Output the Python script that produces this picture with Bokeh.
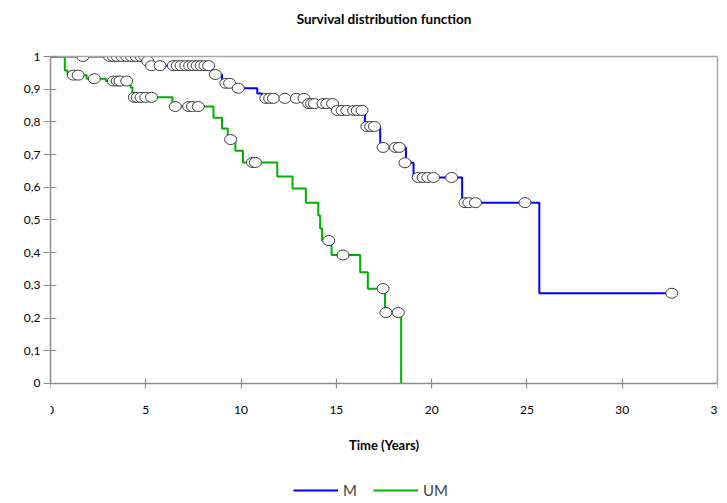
from bokeh.plotting import figure
from bokeh.models import (Range1d, FixedTicker, Legend, LegendItem, CustomJSTickFormatter,
                          LinearAxis)
from bokeh.embed import file_html
from bokeh.resources import INLINE

# ---- data ----
title_text = "Survival distribution function"
x_ticks = [0, 5, 10, 15, 20, 25, 30, 35]
y_ticks = [0, 0.1, 0.2, 0.3, 0.4, 0.5, 0.6, 0.7, 0.8, 0.9, 1.0]
y_tick_labels = ["0", "0,1", "0,2", "0,3", "0,4", "0,5", "0,6", "0,7", "0,8", "0,9", "1"]

# M group: event times and survival after each event
m_event_t = [5.05, 5.2, 8.5, 9.0, 9.6, 10.85, 11.1, 13.4, 15.0, 16.5, 17.3, 18.65, 19.05, 21.6, 25.65]
m_event_s = [0.986, 0.972, 0.945, 0.918, 0.903, 0.887, 0.872, 0.856, 0.835, 0.786, 0.722, 0.675, 0.630, 0.553, 0.276]
m_last_t = 32.6
# M censored observations
m_cens_t = [1.7, 3.1, 3.3, 3.5, 3.75, 4.0, 4.25, 4.5, 4.75, 4.95,
            5.1,
            5.3, 5.75, 6.45, 6.65, 6.85, 7.1, 7.3, 7.5, 7.7, 7.9, 8.1, 8.3,
            8.65, 9.2, 9.4, 9.85,
            11.3, 11.5, 11.7, 12.3, 12.9, 13.3,
            13.55, 13.7, 13.85, 14.3, 14.5, 14.8,
            15.05, 15.3, 15.55, 15.9, 16.1, 16.35,
            16.6, 16.8, 17.0,
            17.45, 18.1, 18.3, 18.6,
            19.3, 19.55, 19.8, 20.1, 21.05,
            21.75, 21.95, 22.3, 24.9, 32.6]
m_cens_s = [1, 1, 1, 1, 1, 1, 1, 1, 1, 1,
            0.986,
            0.972, 0.972, 0.972, 0.972, 0.972, 0.972, 0.972, 0.972, 0.972, 0.972, 0.972, 0.972,
            0.945, 0.918, 0.918, 0.903,
            0.872, 0.872, 0.872, 0.872, 0.872, 0.872,
            0.856, 0.856, 0.856, 0.856, 0.856, 0.856,
            0.835, 0.835, 0.835, 0.835, 0.835, 0.835,
            0.786, 0.786, 0.786,
            0.722, 0.722, 0.722, 0.675,
            0.630, 0.630, 0.630, 0.630, 0.630,
            0.553, 0.553, 0.553, 0.553, 0.276]

# UM group
um_event_t = [0.75, 0.9, 1.9, 2.9, 4.2, 4.3, 6.4, 8.55, 9.0, 9.3, 9.7, 10.1, 11.9, 12.7, 13.4,
              14.05, 14.15, 14.25, 14.75, 16.25, 16.65, 17.55, 18.4]
um_event_s = [0.957, 0.943, 0.932, 0.925, 0.905, 0.875, 0.847, 0.813, 0.78, 0.746, 0.712, 0.676,
              0.633, 0.596, 0.553, 0.514, 0.474, 0.437, 0.393, 0.34, 0.29, 0.217, 0.0]
um_cens_t = [1.2, 1.45, 2.3, 3.3, 3.5, 3.65, 4.0, 4.4, 4.55, 4.75, 5.0, 5.3,
             6.55, 7.25, 7.45, 7.75, 9.45, 10.6, 10.75, 14.6, 15.35, 17.45, 17.6, 18.25]
um_cens_s = [0.943, 0.943, 0.932, 0.925, 0.925, 0.925, 0.925, 0.875, 0.875, 0.875, 0.875, 0.875,
             0.847, 0.847, 0.847, 0.847, 0.746, 0.676, 0.676, 0.437, 0.393, 0.29, 0.217, 0.217]

series_names = ["M", "UM"]
series_colors = ["#0000ff", "#00b000"]

# ---- figure ----
# The frame extends below the x axis so that the legend can sit inside it;
# the x axis itself is pinned at y = 0.
FONT = "Lato"
BORDER = "#a6a6a6"
p = figure(frame_width=667, frame_height=447,
           output_backend="svg", toolbar_location=None,
           x_range=Range1d(0, 35), y_range=Range1d(-0.367, 1),
           min_border_left=50, min_border_right=10, min_border_top=56, min_border_bottom=0)

p.grid.visible = False
p.outline_line_color = None
p.background_fill_color = "white"
p.border_fill_color = "white"

bx = p.xaxis[0]
ly = p.yaxis[0]

for ax in (bx, ly):
    ax.axis_line_color = "#8c8c8c"
    ax.axis_line_width = 1.5
    ax.major_tick_line_color = "#8c8c8c"
    ax.major_tick_line_width = 1.2
    ax.minor_tick_line_color = None
    ax.major_label_text_font = FONT
    ax.major_label_text_font_size = "12px"
    ax.major_label_text_color = "#000000"

bx.fixed_location = 0
bx.bounds = (0, 35)
bx.ticker = FixedTicker(ticks=x_ticks)
bx.major_tick_in = 5
bx.major_tick_out = 5
bx.major_label_standoff = 18
bx.axis_label = "Time (Years)"
bx.axis_label_text_font = FONT
bx.axis_label_text_font_size = "13px"
bx.axis_label_text_font_style = "bold"
bx.axis_label_text_color = "#000000"
bx.axis_label_standoff = 19

ly.bounds = (0, 1)
ly.ticker = FixedTicker(ticks=y_ticks)
ly.formatter = CustomJSTickFormatter(args=dict(tv=y_ticks, tl=y_tick_labels), code="""
    for (let i = 0; i < tv.length; i++) {
        if (Math.abs(tv[i] - tick) < 1e-9) { return tl[i]; }
    }
    return String(tick);
""")
ly.major_tick_in = 6
ly.major_tick_out = 7
ly.major_label_standoff = 3

# title drawn as the label of a bare axis above the frame; its line is the top border
top_axis = LinearAxis(axis_label=title_text, ticker=FixedTicker(ticks=[]),
                      axis_line_color=BORDER, axis_line_width=1.5,
                      major_tick_line_color=None,
                      minor_tick_line_color=None, major_label_text_font_size="0px",
                      major_tick_in=0, major_tick_out=0, major_label_standoff=0,
                      axis_label_standoff=30, axis_label_text_font=FONT,
                      axis_label_text_font_size="13.5px", axis_label_text_font_style="bold",
                      axis_label_text_color="#000000")
p.add_layout(top_axis, "above")

# right border of the plot area (from 0 to 1)
right_axis = LinearAxis(ticker=FixedTicker(ticks=[]), bounds=(0, 1),
                        axis_line_color=BORDER, axis_line_width=1.5,
                        major_tick_line_color=None, minor_tick_line_color=None,
                        major_label_text_font_size="0px",
                        major_tick_in=0, major_tick_out=0, major_label_standoff=0)
p.add_layout(right_axis, "right")

# step lines
m_x = [0] + m_event_t + [m_last_t]
m_y = [1] + m_event_s + [m_event_s[-1]]
um_x = [0] + um_event_t
um_y = [1] + um_event_s

r_m = p.step(m_x, m_y, mode="after", line_color=series_colors[0], line_width=2)
r_um = p.step(um_x, um_y, mode="after", line_color=series_colors[1], line_width=2)

# censored markers
for tx, sy in ((m_cens_t, m_cens_s), (um_cens_t, um_cens_s)):
    p.ellipse(tx, sy, width=12, height=10, width_units="screen", height_units="screen",
              fill_color="white", line_color="#3c3c3c", line_width=1)

legend = Legend(items=[LegendItem(label=series_names[0], renderers=[r_m]),
                       LegendItem(label=series_names[1], renderers=[r_um])],
                orientation="horizontal", location=(243, 4),
                label_text_font=FONT, label_text_font_size="15px",
                glyph_width=45, glyph_height=14, label_height=14,
                label_standoff=5, spacing=10,
                border_line_color=None, background_fill_alpha=0,
                margin=0, padding=0)
p.add_layout(legend, "center")

open("out.html", "w").write(file_html(p, INLINE))
